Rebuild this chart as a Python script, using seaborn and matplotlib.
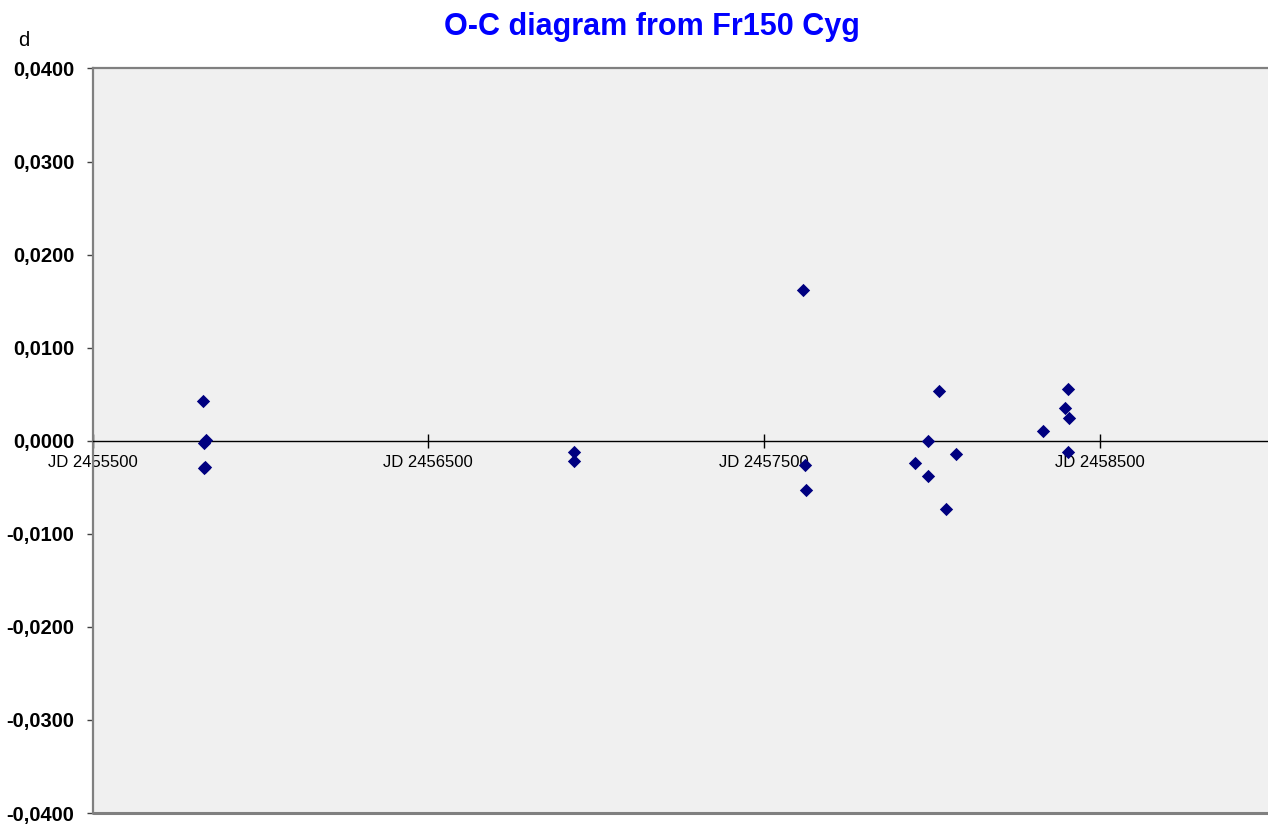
import matplotlib
matplotlib.use("Agg")
import matplotlib.pyplot as plt
import matplotlib.ticker as mticker
import seaborn as sns
import pandas as pd

# Times of minima (JD) and their O-C residuals (days)
jd = [2455830, 2455832, 2455838, 2455832, 2455834,
      2456934, 2456934,
      2457616, 2457620, 2457625,
      2457949, 2457988, 2457988, 2458021, 2458042, 2458071,
      2458330, 2458396, 2458405, 2458408, 2458405]
oc = [0.0043, -0.0002, 0.0001, -0.0029, -0.0028,
      -0.0012, -0.0022,
      0.0162, -0.0026, -0.0053,
      -0.0024, 0.0000, -0.0038, 0.0053, -0.0073, -0.0014,
      0.0010, 0.0035, 0.0056, 0.0024, -0.0012]

x_ticks = [2455500, 2456500, 2457500, 2458500]
x_labels = ["JD 2455500", "JD 2456500", "JD 2457500", "JD 2458500"]
y_ticks = [-0.04, -0.03, -0.02, -0.01, 0.0, 0.01, 0.02, 0.03, 0.04]

df = pd.DataFrame({"JD": jd, "O-C": oc})

sns.set_style("white")
plt.rcParams["font.family"] = ["Liberation Sans", "DejaVu Sans"]
plt.rcParams["text.color"] = "black"
plt.rcParams["xtick.color"] = "black"
plt.rcParams["ytick.color"] = "black"

W, H = 1268, 826
fig = plt.figure(figsize=(W / 100, H / 100), dpi=100)
left, right, top, bottom = 92.5, 1268, 68.5, 813
ax = fig.add_axes([left / W, (H - bottom) / H, (right - left) / W, (bottom - top) / H])
ax.set_facecolor("#f0f0f0")

sns.scatterplot(data=df, x="JD", y="O-C", ax=ax, marker="D", color="#000080",
                s=46, linewidth=0, zorder=5)

ax.set_xlim(2455500, 2459000)
ax.set_ylim(-0.04, 0.04)
ax.set_xlabel("")
ax.set_ylabel("")

# x axis drawn along O-C = 0
ax.spines["bottom"].set_position(("data", 0))
ax.spines["bottom"].set_color("black")
ax.spines["bottom"].set_linewidth(1.0)
ax.spines["right"].set_visible(False)
for s in ("left", "top"):
    ax.spines[s].set_color("#808080")
    ax.spines[s].set_linewidth(1.6)
# lower frame edge
ax.plot([0, 1], [0, 0], transform=ax.transAxes, color="#808080", lw=2.2,
        clip_on=False, zorder=6)

ax.set_xticks(x_ticks)
ax.set_xticklabels(x_labels)
ax.set_yticks(y_ticks)
ax.yaxis.set_major_formatter(mticker.FuncFormatter(
    lambda v, p: f"{v:.4f}".replace(".", ",").replace("-0,0000", "0,0000")))

ax.tick_params(axis="x", direction="inout", length=10, width=1, color="black",
               labelcolor="black", labelsize=12, pad=5, bottom=True)
ax.tick_params(axis="y", direction="out", length=4, width=1, color="#404040",
               labelcolor="black", labelsize=14.5, pad=9, left=True)
for lab in ax.get_yticklabels():
    lab.set_fontweight("bold")

fig.text(652 / W, 1 - 27 / H, "O-C diagram from Fr150 Cyg", ha="center", va="center",
         fontsize=22, fontweight="bold", color="#0000ff")
fig.text(24 / W, 1 - 41 / H, "d", ha="center", va="center", fontsize=14.5, color="black")

fig.savefig("out.png", dpi=100)
